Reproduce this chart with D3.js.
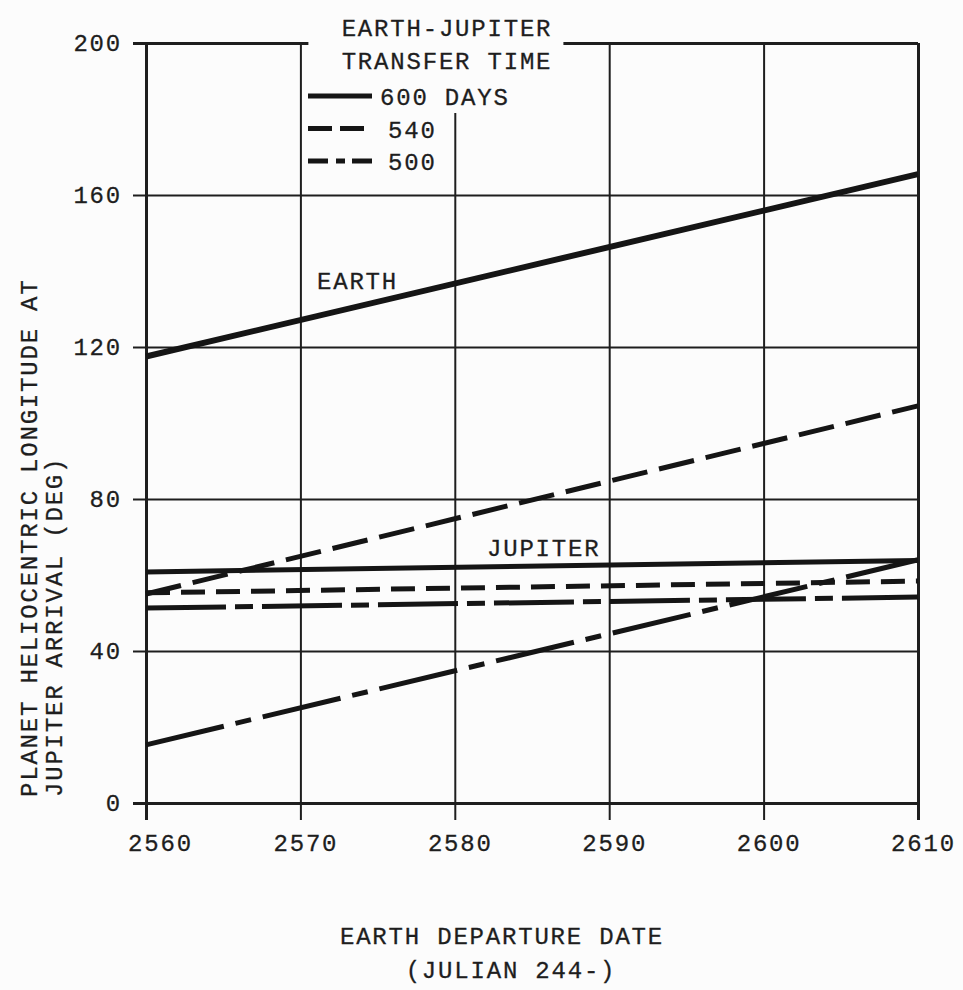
<!DOCTYPE html>
<html>
<head>
  <script type="text/javascript" src="https://d3js.org/d3.v7.min.js"></script>
</head>
<body>
<style type="text/css">
  html,
  body {
    margin: 0px;
    background: #fcfcfc;
    overflow: hidden;
  }

  svg text {
    font-family: "Liberation Mono", "Courier New", monospace;
    font-size: 24px;
    letter-spacing: 1.8px;
    fill: #1e1e1e;
    stroke: #1e1e1e;
    stroke-width: 0.3px;
  }

  .grid line {
    stroke: #1e1e1e;
    stroke-width: 2;
  }

  .data-line {
    fill: none;
    stroke: #151515;
    stroke-width: 5;
  }
</style>

<script>
"use strict";

// Data
const DEPARTURE_DAYS = [2560, 2610];            // Earth departure date (Julian 244-)
const X_TICKS = [2560, 2570, 2580, 2590, 2600, 2610];
const Y_TICKS = [0, 40, 80, 120, 160, 200];
const TRANSFER_TIMES = ["600", "540", "500"];   // days
const EARTH_600 = [117.5, 165.5];
const EARTH_540 = [55, 104.5];
const EARTH_500 = [15.3, 64];
const JUPITER_600 = [60.8, 63.8];
const JUPITER_540 = [55.3, 58.4];
const JUPITER_500 = [51.3, 54.2];

const SERIES = [
  { planet: "EARTH", time: "600", values: EARTH_600 },
  { planet: "EARTH", time: "540", values: EARTH_540 },
  { planet: "EARTH", time: "500", values: EARTH_500 },
  { planet: "JUPITER", time: "600", values: JUPITER_600 },
  { planet: "JUPITER", time: "540", values: JUPITER_540 },
  { planet: "JUPITER", time: "500", values: JUPITER_500 }
];

// Line styles per transfer time (Earth lines have longer dashes)
const DASHES = {
  EARTH: { "600": null, "540": "36,12", "500": "80,12,16,12" },
  JUPITER: { "600": null, "540": "24,11", "500": "80,9,18,9" },
  LEGEND: { "600": null, "540": "24,8", "500": "20,8,9,7" }
};

// Dimensions
const WIDTH = 963;
const HEIGHT = 990;
const LEFT = 146;
const RIGHT = 918;
const TOP = 43;
const BOTTOM = 803;
const TICK_OUT = 13; // gridlines run past the frame

const svg = d3.select("body")
  .append("svg")
  .attr("width", WIDTH)
  .attr("height", HEIGHT);

const x = d3.scaleLinear().domain([2560, 2610]).range([LEFT, RIGHT]);
const y = d3.scaleLinear().domain([0, 200]).range([BOTTOM, TOP]);

// Horizontal gridlines + y tick labels
const yAxis = svg.append("g")
  .attr("class", "grid y-grid")
  .attr("transform", "translate(" + (LEFT - TICK_OUT) + ",0)")
  .call(d3.axisLeft(y)
    .tickValues(Y_TICKS)
    .tickSize(-(RIGHT - LEFT + TICK_OUT))
    .tickPadding(11)
    .tickFormat(d3.format("d")));

// Vertical gridlines + x tick labels
const xAxis = svg.append("g")
  .attr("class", "grid x-grid")
  .attr("transform", "translate(0," + (BOTTOM + 17) + ")")
  .call(d3.axisBottom(x)
    .tickValues(X_TICKS)
    .tickSize(-(BOTTOM + 17 - TOP))
    .tickPadding(14)
    .tickFormat(d3.format("d")));

svg.selectAll(".grid .domain").remove();
svg.selectAll(".grid text").attr("font-size", null).attr("font-family", null);
xAxis.selectAll("text").attr("dx", function(d) { return d === 2560 ? 14 : 5; });

// frame lines are heavier
yAxis.selectAll(".tick line").style("stroke-width", function(d) {
  return d === 0 || d === 200 ? 3 : 2;
});
xAxis.selectAll(".tick line").style("stroke-width", function(d) {
  return d === 2560 || d === 2610 ? 3 : 2;
});

// Legend box (clears gridlines behind it)
const legend = svg.append("g").attr("class", "legend");
legend.append("rect")
  .attr("x", x(2570) + 8)
  .attr("y", 0)
  .attr("width", 255)
  .attr("height", 113)
  .attr("fill", "#fcfcfc");

legend.append("text").attr("x", 447).attr("y", 36)
  .attr("text-anchor", "middle").text("EARTH-JUPITER");
legend.append("text").attr("x", 447).attr("y", 69)
  .attr("text-anchor", "middle").text("TRANSFER TIME");

const legendY = d3.scalePoint().domain(TRANSFER_TIMES).range([96, 161]);
const legendItems = legend.selectAll(".legend-item")
  .data(TRANSFER_TIMES)
  .enter()
  .append("g")
  .attr("class", "legend-item");

legendItems.append("line")
  .attr("class", "data-line")
  .attr("x1", 308)
  .attr("x2", 372)
  .attr("y1", function(d) { return legendY(d); })
  .attr("y2", function(d) { return legendY(d); })
  .style("stroke-dasharray", function(d) { return DASHES.LEGEND[d]; });

legendItems.append("text")
  .attr("x", function(d, i) { return i === 0 ? 380 : 388; })
  .attr("y", function(d) { return legendY(d) + 9; })
  .text(function(d, i) { return i === 0 ? d + " DAYS" : d; });

// Data lines
const line = d3.line()
  .x(function(d) { return x(d[0]); })
  .y(function(d) { return y(d[1]); });

svg.selectAll(".series")
  .data(SERIES)
  .enter()
  .append("path")
  .attr("class", "data-line series")
  .attr("d", function(s) {
    return line(DEPARTURE_DAYS.map(function(t, i) { return [t, s.values[i]]; }));
  })
  .style("stroke-width", function(s) { return s.planet === "EARTH" && s.time === "600" ? 6 : 5; })
  .style("stroke-dasharray", function(s) { return DASHES[s.planet][s.time]; });

// Planet labels
svg.append("text").attr("x", 317).attr("y", 289).text("EARTH");
svg.append("text").attr("x", 487).attr("y", 556).text("JUPITER");

// Axis titles
svg.append("text").attr("x", 502).attr("y", 944)
  .attr("text-anchor", "middle").text("EARTH DEPARTURE DATE");
svg.append("text").attr("x", 511).attr("y", 978)
  .attr("text-anchor", "middle").text("(JULIAN 244-)");

svg.append("text")
  .attr("transform", "translate(37,797) rotate(-90)")
  .text("PLANET HELIOCENTRIC LONGITUDE AT");
svg.append("text")
  .attr("transform", "translate(62,797) rotate(-90)")
  .text("JUPITER ARRIVAL (DEG)");
</script>
</body>
</html>
